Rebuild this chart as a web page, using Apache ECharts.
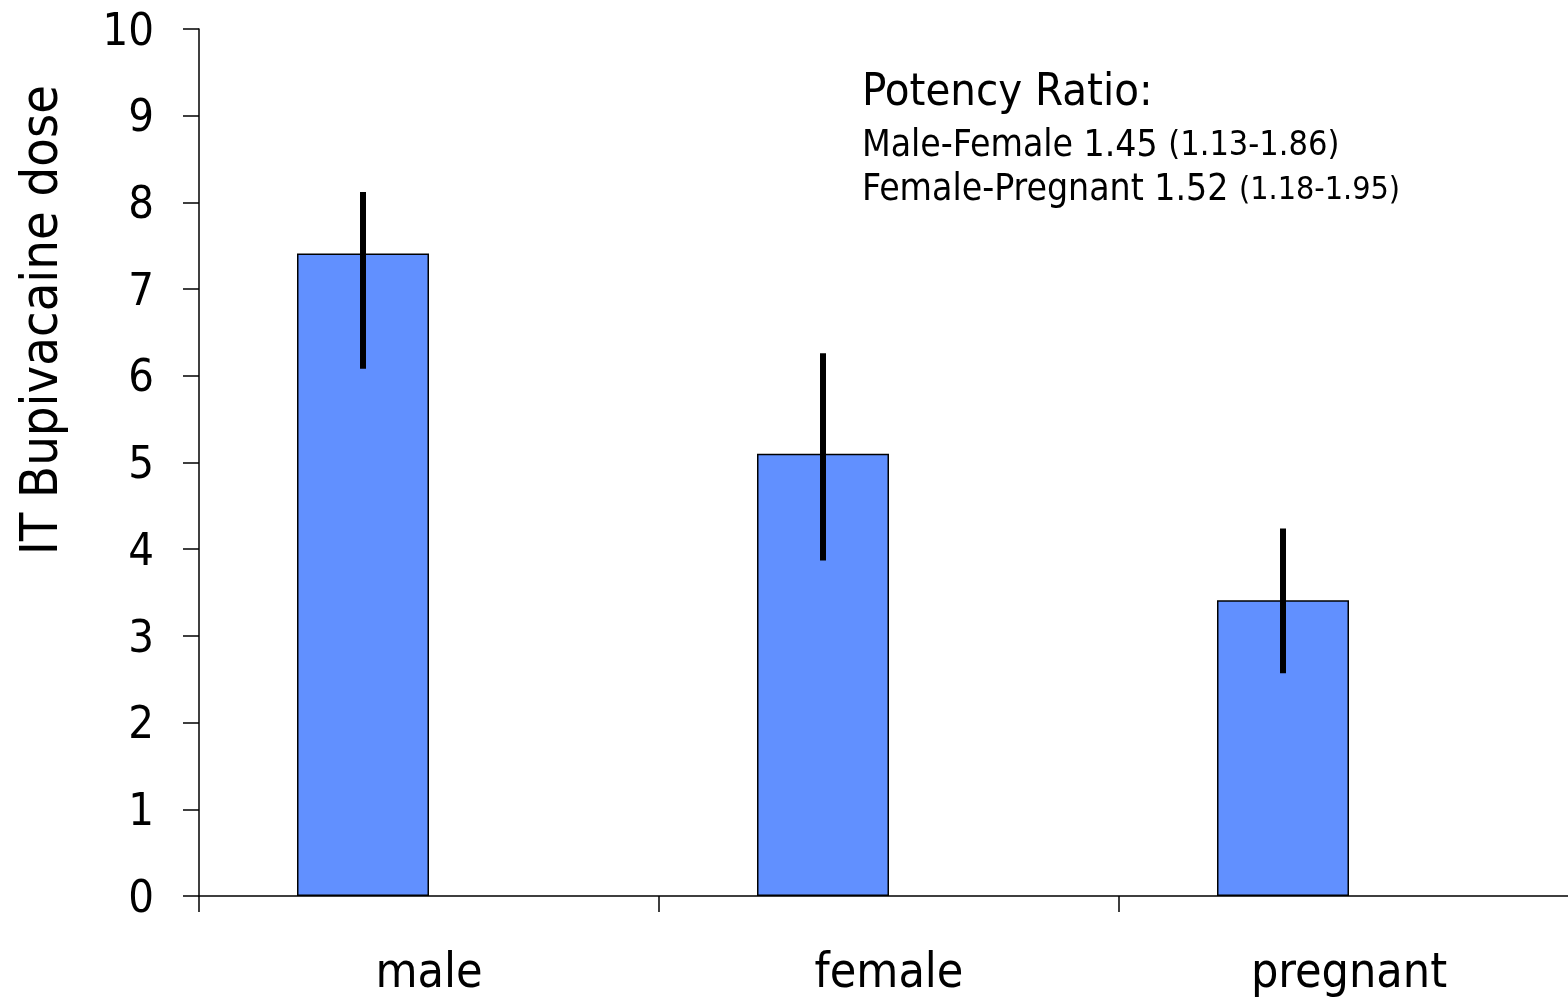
<!DOCTYPE html>
<html>
<head>
<meta charset="utf-8">
<script src="https://cdn.jsdelivr.net/npm/echarts@6/dist/echarts.min.js"></script>
<style>html,body{margin:0;padding:0;background:#fff;overflow:hidden}#c{width:1580px;height:1003px}</style>
</head>
<body>
<div id="c"></div>
<script>
const categories = ['male', 'female', 'pregnant'];
const doseValues = [7.41, 5.10, 3.41];
const errorLow = [6.08, 3.87, 2.57];
const errorHigh = [8.12, 6.26, 4.24];
const yTicks = [0, 1, 2, 3, 4, 5, 6, 7, 8, 9, 10];
const annotationTitle = 'Potency Ratio:';
const annotationLines = [
  ['Male-Female 1.45 ', '(1.13-1.86)'],
  ['Female-Pregnant 1.52 ', '(1.18-1.95)']
];

const FONT = '"DejaVu Sans Condensed", "DejaVu Sans", sans-serif';
const BAR_W = 132;

const chart = echarts.init(document.getElementById('c'));
chart.setOption({
  backgroundColor: '#fff',
  animation: false,
  textStyle: { fontFamily: FONT },
  grid: { left: 199, top: 29, bottom: 107, width: 1380, containLabel: false },
  xAxis: {
    type: 'category',
    data: categories,
    axisLine: { lineStyle: { color: '#000', width: 1.5 } },
    axisTick: { show: true, length: 16, lineStyle: { color: '#000', width: 1.5 } },
    axisLabel: { color: '#000', fontSize: 48, fontFamily: FONT, margin: 55 }
  },
  yAxis: {
    type: 'value',
    min: yTicks[0],
    max: yTicks[yTicks.length - 1],
    interval: 1,
    axisLine: { show: true, lineStyle: { color: '#000', width: 1.5 } },
    axisTick: { show: true, length: 16, lineStyle: { color: '#000', width: 1.5 } },
    splitLine: { show: false },
    axisLabel: {
      margin: 45,
      formatter: function (v) { return '{v|' + v + '}'; },
      rich: { v: { color: '#000', fontSize: 45, fontFamily: FONT, padding: [8, 0, 0, 0] } }
    }
  },
  series: [
    {
      type: 'bar',
      data: doseValues,
      barWidth: BAR_W,
      barGap: '0%',
      itemStyle: { color: '#6190FF', borderColor: '#000', borderWidth: 1.5 },
      z: 2
    },
    {
      type: 'bar',
      data: categories.map(() => '-'),
      barWidth: BAR_W,
      barGap: '0%'
    },
    {
      type: 'custom',
      data: categories.map((c, i) => [i, errorLow[i], errorHigh[i]]),
      z: 5,
      renderItem: function (params, api) {
        const lo = api.coord([api.value(0), api.value(1)]);
        const hi = api.coord([api.value(0), api.value(2)]);
        const x = lo[0] - BAR_W / 2;
        return {
          type: 'line',
          shape: { x1: x, y1: lo[1], x2: x, y2: hi[1] },
          style: { stroke: '#000', lineWidth: 6 }
        };
      }
    }
  ],
  graphic: [
    {
      type: 'text',
      x: 43, y: 320,
      rotation: Math.PI / 2,
      style: {
        text: 'IT Bupivacaine dose',
        font: '52px ' + FONT,
        fill: '#000',
        align: 'center',
        verticalAlign: 'middle'
      }
    },
    {
      type: 'text',
      left: 862, top: 71,
      style: { text: annotationTitle, font: '45px ' + FONT, fill: '#000' }
    },
    {
      type: 'text',
      left: 862, top: 128,
      style: {
        text: '{a|' + annotationLines[0][0] + '}{b|' + annotationLines[0][1] + '}',
        rich: {
          a: { fontSize: 37, fontFamily: FONT, fill: '#000', color: '#000' },
          b: { fontSize: 34, fontFamily: FONT, fill: '#000', color: '#000' }
        }
      }
    },
    {
      type: 'text',
      left: 862, top: 172,
      style: {
        text: '{a|' + annotationLines[1][0] + '}{b|' + annotationLines[1][1] + '}',
        rich: {
          a: { fontSize: 37, fontFamily: FONT, fill: '#000', color: '#000' },
          b: { fontSize: 32, fontFamily: FONT, fill: '#000', color: '#000' }
        }
      }
    }
  ]
});
</script>
</body>
</html>
